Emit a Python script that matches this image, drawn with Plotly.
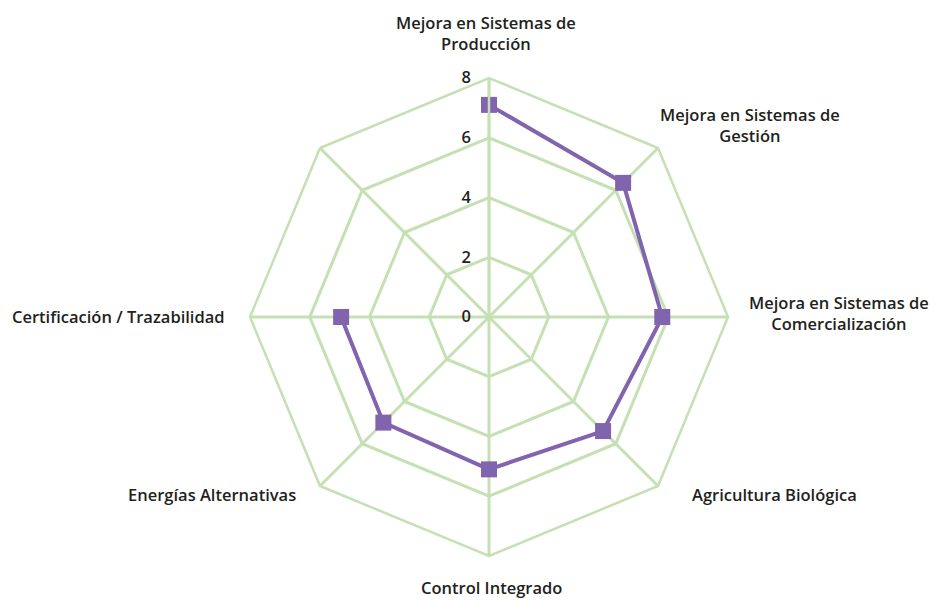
import plotly.graph_objects as go

categorias = [
    "Mejora en Sistemas de<br>Producción",
    "Mejora en Sistemas de<br>Gestión",
    "Mejora en Sistemas de<br>Comercialización",
    "Agricultura Biológica",
    "Control Integrado",
    "Energías Alternativas",
    "Certificación / Trazabilidad",
    " ",
]
valores = [7.1, 6.35, 5.8, 5.4, 5.1, 5.0, 4.95, None]
ticks_radiales = [0, 2, 4, 6, 8]

# posiciones (px dentro de la figura) de las etiquetas de categoría
pos_etiquetas = [(478, 25), (742, 117), (831, 305), (766, 487),
                 (483, 579), (204, 487), (110, 308)]

verde = "#c5e0b3"
morado = "#8064ad"

cx, cy, rad = 481, 309, 239
W, H = 938, 601

fig = go.Figure()
fig.add_trace(go.Scatterpolar(
    r=valores, theta=categorias, mode="lines+markers",
    line=dict(color=morado, width=4),
    marker=dict(symbol="square", size=16, color=morado),
    connectgaps=False,
))

for texto, (px_, py_) in zip(categorias, pos_etiquetas):
    fig.add_annotation(text=texto, x=px_ / W, y=1 - py_ / H, xref="paper", yref="paper",
                       xanchor="center", yanchor="middle", align="center",
                       showarrow=False)

fig.update_layout(
    width=W, height=H,
    margin=dict(l=0, r=0, t=0, b=0),
    paper_bgcolor="white",
    showlegend=False,
    font=dict(family="Open Sans", size=16.5, color="#231f20", weight=600),
    polar=dict(
        domain=dict(x=[(cx - rad) / W, (cx + rad) / W],
                    y=[(H - cy - rad) / H, (H - cy + rad) / H]),
        gridshape="linear",
        bgcolor="white",
        radialaxis=dict(range=[0, 8], tickvals=ticks_radiales, angle=90,
                        tickangle=90, side="counterclockwise",
                        showline=True, linecolor=verde, linewidth=2.5,
                        gridcolor=verde, gridwidth=2.5,
                        ticks="outside", ticklen=11, tickcolor="rgba(0,0,0,0)",
                        tickfont=dict(size=16.5)),
        angularaxis=dict(direction="clockwise", rotation=90,
                         linecolor=verde, linewidth=2.5,
                         gridcolor=verde, gridwidth=2.5,
                         showticklabels=False, ticks=""),
    ),
)

fig.write_html("out.html")
